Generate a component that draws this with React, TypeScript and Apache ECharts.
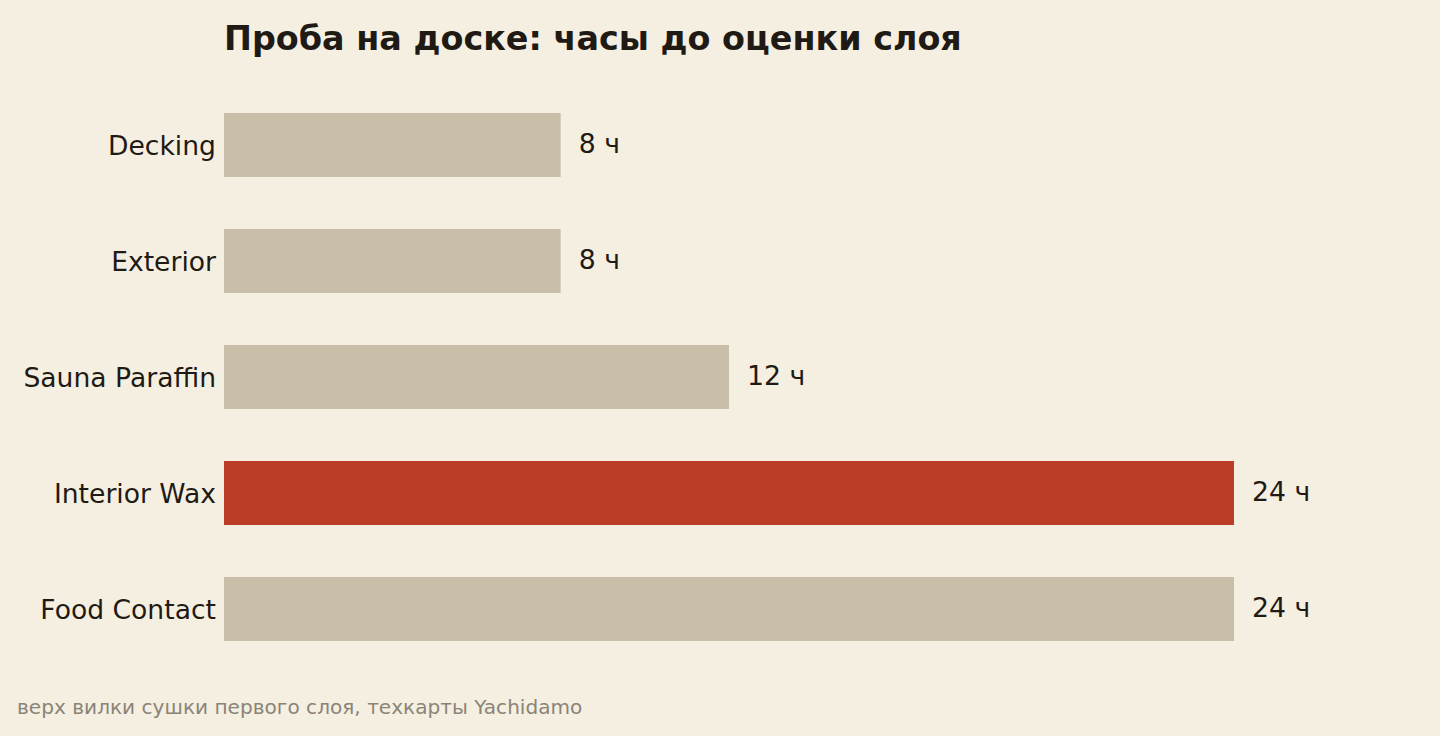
import { useEffect, useRef } from 'react';
import * as echarts from 'echarts';

const categories = ['Decking', 'Exterior', 'Sauna Paraffin', 'Interior Wax', 'Food Contact'];
const hours = [8, 8, 12, 24, 24];
const highlighted = 'Interior Wax';

const BG = '#f5efe2';
const BAR = '#c9bfa8';
const ACCENT = '#bb3c27';
const INK = '#1f1a14';
const MUTED = '#8a8377';
const FONT = '"DejaVu Sans", sans-serif';

export default function App() {
  const elRef = useRef<HTMLDivElement>(null);

  useEffect(() => {
    const el = elRef.current;
    if (!el) return;
    const chart = echarts.init(el, undefined, { renderer: 'svg' });
    chart.setOption({
      animation: false,
      backgroundColor: BG,
      textStyle: { fontFamily: FONT },
      title: {
        text: 'Проба на доске: часы до оценки слоя',
        left: 219,
        top: 17,
        textStyle: { fontFamily: FONT, fontSize: 33.4, fontWeight: 'bold', color: INK },
      },
      grid: { left: 224, right: 206, top: 87, bottom: 69, containLabel: false },
      xAxis: {
        type: 'value',
        min: 0,
        max: 24,
        show: false,
      },
      yAxis: {
        type: 'category',
        data: categories,
        inverse: true,
        axisLine: { show: false },
        axisTick: { show: false },
        axisLabel: { margin: 8, fontSize: 26.6, color: INK, fontFamily: FONT, padding: [3, 0, 0, 0] },
      },
      series: [
        {
          type: 'bar',
          barWidth: 64,
          data: categories.map((c, i) => ({
            value: hours[i],
            itemStyle: { color: c === highlighted ? ACCENT : BAR },
          })),
          label: {
            show: true,
            position: 'right',
            distance: 18,
            offset: [0, -2],
            formatter: (p: { value: number }) => `${p.value} ч`,
            fontSize: 26.7,
            color: INK,
            fontFamily: FONT,
          },
        },
      ],
      graphic: [
        {
          type: 'text',
          left: 17,
          top: 697,
          style: {
            text: 'верх вилки сушки первого слоя, техкарты Yachidamo',
            fontSize: 20.1,
            fill: MUTED,
            fontFamily: FONT,
          },
        },
      ],
    });
    return () => chart.dispose();
  }, []);

  return (
    <div
      ref={elRef}
      style={{ position: 'fixed', left: 0, top: 0, width: 1440, height: 736 }}
    />
  );
}
